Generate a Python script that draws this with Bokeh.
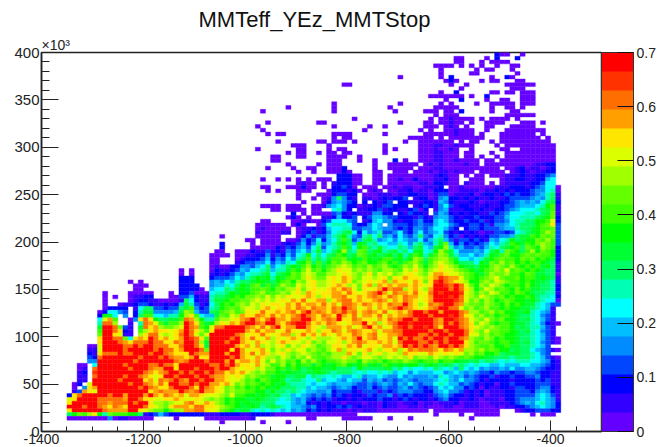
from bokeh.plotting import figure
from bokeh.models import ColumnDataSource, LinearColorMapper, ColorBar, FixedTicker, Title, Range1d
from bokeh.transform import transform
from bokeh.embed import file_html
from bokeh.resources import INLINE

TITLE = "MMTeff_YEz_MMTStop"
X_TICKS = [-1400, -1200, -1000, -800, -600, -400]
Y_TICKS = [0, 50, 100, 150, 200, 250, 300, 350, 400]
Z_TICKS = [0, 0.1, 0.2, 0.3, 0.4, 0.5, 0.6, 0.7]
PALETTE = ["#6400ff", "#3200ff", "#0000ff", "#0046ff", "#008cff", "#00beff", "#00ffff", "#00ffb4",
           "#00ff64", "#00ff32", "#00ff00", "#3cff00", "#64ff00", "#a0ff00", "#dcff00", "#ffe600",
           "#ffa000", "#ff6e00", "#ff3200", "#ff0000"]
CODES = "0123456789abcdefghij"

# Each row is one y bin (top to bottom), split into groups of ten x bins; "_" = an empty group.
# Each character is the colour level of the cell.
ROWS = [
"_ _ _ _ _ _ _ _ ....200..0",
"_ _ _ _ _ _ _ ......00.. ..0.2...2.",
"_ _ _ _ _ _ _ ......00.. .0.0000...",
"_ _ _ _ _ _ _ ..0000.0.0 .0..0..00.",
"_ _ _ _ _ _ _ ...0...... 0.00...0..",
"_ _ _ _ _ _ _ ...0.....0 0.......0.",
"_ _ _ _ _ _ .....0.... ...0.2.... ...0..20..",
"_ _ _ _ _ _ _ ....020... .0.00...00",
"_ _ _ _ _ ....00.... _ .....0..0. ......0000 00",
"_ _ _ _ _ _ _ .......0.. .......000",
"_ _ _ _ _ _ _ ...0..2... ...00.00.0 00",
"_ _ _ _ _ _ _ .0000000.0 ..2......0 00",
"_ _ _ _ _ _ _ ....0..2.. ..0..00..0 00",
"_ _ _ _ _ ..0....... .....0.... ...0.0.... 0..00000.0 00",
"_ _ _ _ ...0...... ..0....... ...0...... ..00000... ...0..00.0",
"_ _ _ ........0. _ ..0....... ....0..... 000.00.2.. ...0...00.",
"_ _ _ _ _ _ _ ..0.000... ......0000 00",
"_ _ _ _ _ ......0... _ .0.0010000 .0.0000.0.",
"_ _ _ .........0 .........0 0......... .....0.... 00.00100.0 ..0000...0 00.0",
"_ _ _ .......0.. _ ..0......0 ..0....... 000.010.0. ..00...000 00",
"_ _ _ ........0. _ ........0. .........0 .0..001000 ..0...0000 0000",
"_ _ _ .........0 .00....... ..0000.... ..0....... 0000001000 .0...00000 00.0",
"_ _ _ _ _ ..0.00.... .......000 00.0.00000 00...00000 000.0",
"_ _ _ _ .0.......0 0.000.0... ......0..0 000000.0.0 0..0.00000 00000",
"_ _ _ _ ....000... .0........ ..0......0 0011001000 ....0.0000 000000",
"_ _ _ .......0.. .....00... .0.00..... ..0.0....0 0010010..0 .....00..0 000000",
"_ _ _ _ ...0.00..0 .00.00.... ..0......0 0011000.00 ...0..0000 000000",
"_ _ _ _ 00...00... .0000..0.. .........0 0011000.00 .0..0.0000 000000",
"_ _ _ _ 00........ .000...0.. 0...2.0..0 0011001000 0.00.00000 000000",
"_ _ _ _ ...0.....0 .000...... 0..000000. 0101000010 0.00000000 001122",
"_ _ _ .........0 ....0..00. .0002..... 0..00000.0 0011000000 00000.0012 011012",
"_ _ _ _ .....0..0. .00020.... 00..000.00 0101101000 .00000.012 101122",
"_ _ _ _ _ ...22200.. 00.0000000 0012100.0. 00.0001112 112234",
"_ _ _ ........0. .0.0.0.0.0 00.22200.. 00.0010020 0011200..0 00...01122 112256",
"_ _ _ _ .....0100. 0.122200.. 00.0000001 1022100.10 00.0.01111 122366",
"_ _ _ ........00 ...000200. 0.22320.00 0.00101100 1112.00100 0000111222 1234660",
"_ _ _ .........0 .0...000.. .0222120.0 10.0011201 1022200111 1011212122 2344670",
"_ _ _ _ .....0...0 0023322.00 0111011221 1013301112 0122123232 2345781",
"_ _ _ _ .....0..0. 0148421.11 0121223.12 2014522121 2112112333 3454781",
"_ _ _ _ ......0... 0245432.2. 2123.22111 2215421112 1011122345 4546892",
"_ _ _ ........00 00.000..00 1456422011 2133222.12 3214631221 1121123345 5567ab1",
"_ _ _ _ 00.0000.00 ..6742.112 2312211230 2.14511122 1211223456 66789b1",
"_ _ _ _ ....2.0.00 0034212111 4422.21322 1.35421212 2113234666 77689c1",
"_ _ _ _ ...020.0.. 1125223.23 5543322213 2145532122 3222335667 7789ac2",
"_ _ _ ........00 ....001100 2366643.12 5644212234 2256532232 2312334677 88aabe2",
"_ _ _ .......000 000.020..0 3677763224 65.4333234 3356643223 3231445678 88abcf3",
"_ _ _ .......010 0000.01121 2566773344 6544323244 3466532.23 3233345578 89abbc3",
"_ _ _ .......100 0011.01231 2467896264 5733463246 3456321212 1011332367 89abdc3",
"_ _ _ 0......000 00...02413 3578a74378 6845364358 4367423021 2123344589 9bacbc3",
"_ _ _ .....00.00 00.0014236 2568b83589 7456465446 3578531332 3215467a89 aacbdb3",
"_ _ _ 2.....0.00 0012135247 4579a85a97 8665576478 5479c52423 2346578ba9 bacdcb3",
"_ _ _ 2.....0000 0213245368 3678b96ab8 7976687589 659ad74533 4357689ab8 cbadcb2",
"_ _ .........0 0..0002113 1214356479 568ad87cb8 9a7897869a 67adb96444 5468a7cba8 bdacba2",
"_ _ ........00 00.0011224 1325367a68 689ba89cb9 a89a8a79ba 79bdc97556 457a9bcaab cbcbba2",
"_ _ ........00 ...0122235 2436478b79 79bbc9a9ba 9abb9a8adc 8bcddb9665 679abcbbac bcaba92",
"_ _ ........00 ...1233446 354769ac8b 8acbdcabca abcab9bcdb 9bdedca888 6a9cbdbcab abba981",
"_ _ ........01 0022443568 4678a9bdab 9bcdedbcbd bcdbabdcec acdfedca99 8aacdcbdba bab9a81",
"_ _ ..0.0...02 1123546678 5779bacebc acdfeecdcd cbddcbedfd bdefeedcba 9abcdcebcb aba9881",
"_ _ ..0.0...12 1235467789 689acbdedb bddefedcdf cedecdefed ceggfeedcb a9bdccdbba cb99880",
"_ _ ..222...23 3346578a9a 7a9bcbdfdc cefegfdcee defcfegffe dfgihggecb abcdecbbca bb9a981",
"_ ..0.0..... ..222...45 4657889aa9 8abcadcefd defegfcdef efgdgffegf cfijhgfeda acdcedcbba ba99871",
"_ ...000.... ..2222..45 5768a9bc9b 9bdcbedefd defgfdecfg dgfgfggfgf efjjihjhec adcedcabba ca98872",
"_ ...00..... ..22220.56 6879a9bbcb acbddfcefe efgfhgecfe fgjghhdfge dgjjjhjhfd acedbcbaca b998872",
".......0.. ..00000... 0.22300067 78a9aabcdb bcdcefdgfe ffggfhfefg hjgehggfhf ehjijjjied bdcedbbacb a988771",
".......0.0 ..01122... 0033521178 89abaccdce cedfeefgfd fegghffgfg hgfhgfhgge fgjjjijhed cedcbcabaa ba87762",
".......0.. ..01221100 0018621179 9abbccdede defegfhefg gdfghhfgff ghgegfhgfe fgjjjjihec dbdcabcbaa 9a87660",
".......0.. 0112332112 1259731268 abacdcedfe ffegfhfggf hfgehhgfhg fgfhggjgfd ehghjjhgdc cbdcbacaba 9976533",
".......022 22.1688332 3389b42378 abcbdeedfg effgfhgfhg gfhgjhgefg egfghjhgfe fghjjhhecd bcdbbabaa9 987651.",
"......0266 43.2799444 459dc53389 bcdbcfefhf fgfghfhjgh gfhgighfgh gfhefgfhjj hjjgjjjhgd dbcdbcaa99 a76541.",
"......2a96 .4.28bb665 77adfb6559 cbedgffhgf hfgfghjhgf hgfjgfhegg fhegfgghjj jhjjjijhfe cdbcabba98 876431.",
"......6egb ..04fhfa88 99bhgda77b ddefghjgfh jggfhhjjgf ghgjffhgff egfhghjjhj jjhgjjihge dcecbcaa98 976531.",
"......7hhd ..1.7hgeb9 bbdjhfb9ad fegfhjjhgj jgfhijjhfg fhgfefggjf gdfghjjijj jjhgjhjhgf cedbabba99 8764210",
"......9jjh c31.9hfgdc cdejhgbaeh hjjjjhgfhf hjfggjjgfe dgggfgefhj fgefhijhjj ijhfjjjhgf edcdcbba89 877531.",
"......bjjh f21.bdfgff efgjhfdbfj jjjjjgfhfg gefhfefgfd ffhgeghgff gegghhjjjj jhjjhjjjhf dceccbba98 976431.",
"......cjjf e11.dfhhed efhjhecejj jjjhgeffhf efggdfhfge gfegffhgfg hefgghjjjh hjhjjhjjhe ecdbcbaa98 876531.",
"......fjjh hc6fgfjhfg efgjihfbjj jjhjgfhfeg dfefgfedfd ddefgfgjfg hffgejhjhh jhjjhjjhgd cbdcabaa98 8765310",
"......fjjj hgfhhhjhhf fhgjjhd9jj jhjjgfegfe dfgfeedfcd ceefdfghgf fgfgehjjjh hjhjhjjjfd bccbabba98 9764310",
"....00ejjj jhhjhjjhhh ffhjjhf9jj jjjgfgegde defcedfedb cdffegfhef feggfgjhjh jhgjjhjhfd cbbcaab998 87653..",
"....11ejjj jhjjjjjhjh hfgjjjhcjj jjfjgeffge cedfdeecdc bdegdffefg edffgdfhgh hhgfhgfgdd cdbcbaa898 8654310",
"....21fhhh jhhjjjhjjh gfffjhggjj jgjjgfhegf defdcdedcb cbdddgecfd efdeedgffe egfefefecd bcaab89998 87643..",
"....32hjjj jjjjhjjjhj hggfgjffjj jjhjgfegfd dcedbdcecb bcddfdcdee dcdededfcd dcedcdcbcb aa99888788 8765310",
"....44jjjj jjjhjjjjjj jhghjjjhjj jgjfggfgec ecdbcadbdb abbcdccadc bcabcbdcba bbcabba998 9788767677 7665421",
"..00.6jjjj jhjjjjhhjh hfjjjjjjhh jhjgffeged bbdacabb9b a9abca9ab9 a9ba9a9aa8 9a98987876 7665565556 6554321",
"..01.hjjjj jjhjjjhggj jfjjjhjjjh jjgfeffdec cab9ba89aa 99a8887a88 8899786766 7687675865 6454454644 5543221",
"..12.ijjjj jjjjjhgfgh jjhjhjjhjh hfgfgedcdb ba9a99899a 9878887676 6767566465 5566456545 4332433233 4432211",
"..11.hjjjj jhjjhgfefj jhjjjhjjhg gfefecdcbb 9aa8899687 7676556745 5654464544 4547654534 3223122322 3342211",
"..11.jjjjj hjjjjfgehg hjhgjjhjjg gfeedbcacb aa97887668 5665465535 4534345434 4456754644 3212222122 2232311",
".02.ejjjjj jjhjjhgfhf jjhhjhjjgg fgecdbcbab a9a8777656 6545554334 3454354643 4467655343 2122022322 2233311",
".0.4fgjjjj jjjjhjhgff hjjjhfjhgf ecdbcababa 9a88877565 5434542334 2343345343 2346564423 2021122133 2234421",
".13gfejjjj jjjjjjfghg ggjhghjggf ecdccbbaa8 a887876554 4523332133 3132344433 2245644312 1201112233 3245421",
"2fhjjjjjhj jgjjjgjgfh gfgeggfeee dcebbaa9a9 8977565434 3423212213 2334132322 2134532212 1201112233 3356531",
"efjjjjhhhh hgjjhffeef fgfeefedcd cabaa99a98 8767545323 2312212122 2322123212 2123422112 1011102234 4456541",
"fjjjjjhhgh hhjhjjfddc deeghfegfd caba9a9988 8666545212 1211011101 1021101120 1101112011 1001111234 5467542",
"jjjhjjhgfh gfjjjhfedc fgggfhhffe dcba99a978 9876554342 1223231211 1021100110 1000110011 1000101122 3456542",
"fjjjjjjhgg ggjjfedcca cddgghhfee cba8997676 7656454232 1211101011 1000000000 0.00000000 00000...01 2233322",
"8acbdfa7cb bbaa812353 2222222111 2222112222 1000000000 0000000... _ ..0....0.. 00000..... .0.000.",
"0000000040 1100000... .0.....000 0000001... .......00. ....000000 ...0...0.. .........0",
"_ _ _ 0.......0. ...0......",
"_",
"_",
]


def parse_row(row):
    cells = []
    tokens = row.split()
    for g in range(10):
        t = tokens[g] if g < len(tokens) else "_"
        size = 7 if g == 9 else 10
        t = "." * size if t == "_" else t.ljust(size, ".")[:size]
        cells.extend(t)
    return cells


lefts, rights, tops, bottoms, vals = [], [], [], [], []
for k, row in enumerate(ROWS):
    for c, ch in enumerate(parse_row(row)):
        if ch == ".":
            continue
        lefts.append(-1350 + 10 * c)
        rights.append(-1340 + 10 * c)
        tops.append(400 - 4 * k)
        bottoms.append(396 - 4 * k)
        vals.append(0.0175 + 0.035 * CODES.index(ch))

src = ColumnDataSource(dict(left=lefts, right=rights, top=tops, bottom=bottoms, val=vals))
mapper = LinearColorMapper(palette=PALETTE, low=0, high=0.7)

FONT = "Liberation Sans"
INK = "#222222"
p = figure(frame_width=560, frame_height=379, output_backend="svg", toolbar_location=None,
           x_range=Range1d(-1400, -300), y_range=Range1d(0, 400),
           min_border_left=41, min_border_top=52, min_border_bottom=16, min_border_right=0,
           background_fill_color="white", title=None,
           border_fill_color="white", outline_line_color=INK, outline_line_width=1.5)
p.grid.visible = False

p.quad(left="left", right="right", top="top", bottom="bottom", source=src,
       fill_color=transform("val", mapper), line_color=transform("val", mapper), line_width=0.4)

xa, ya = p.xaxis[0], p.yaxis[0]
xa.ticker = FixedTicker(ticks=X_TICKS, minor_ticks=list(range(-1400, -299, 50)))
ya.ticker = FixedTicker(ticks=Y_TICKS, minor_ticks=list(range(0, 401, 10)))
xa.major_label_overrides = {t: str(t) for t in X_TICKS}
for a, maj, mnr, fs in ((xa, 11, 5, "14px"), (ya, 17, 8, "15px")):
    a.major_tick_in = maj
    a.major_tick_out = 0
    a.minor_tick_in = mnr
    a.minor_tick_out = 0
    a.axis_line_color = INK
    a.axis_line_width = 1.5
    a.major_tick_line_color = INK
    a.minor_tick_line_color = INK
    a.major_label_text_font = FONT
    a.major_label_text_font_size = fs
    a.major_label_text_color = INK
    a.major_label_standoff = 2

cb = ColorBar(color_mapper=mapper, ticker=FixedTicker(ticks=Z_TICKS), width=32,
              padding=0, margin=3, major_tick_in=16, major_tick_line_color="#111111",
              minor_tick_line_color=None, bar_line_color="#333333",
              major_label_text_font=FONT, major_label_text_font_size="14px",
              major_label_text_color=INK, label_standoff=3)
p.add_layout(cb, "right")

# Closest to the frame first: the ×10³ multiplier, then the main title above it.
p.add_layout(Title(text="×10³", align="left", offset=0, standoff=0, text_font=FONT,
                   text_font_size="14px", text_font_style="normal", text_color=INK), "above")
p.add_layout(Title(text=TITLE, align="left", offset=157, standoff=5, text_font=FONT,
                   text_font_size="22px", text_font_style="normal", text_color="#111111"), "above")

open("out.html", "w").write(file_html(p, INLINE))
